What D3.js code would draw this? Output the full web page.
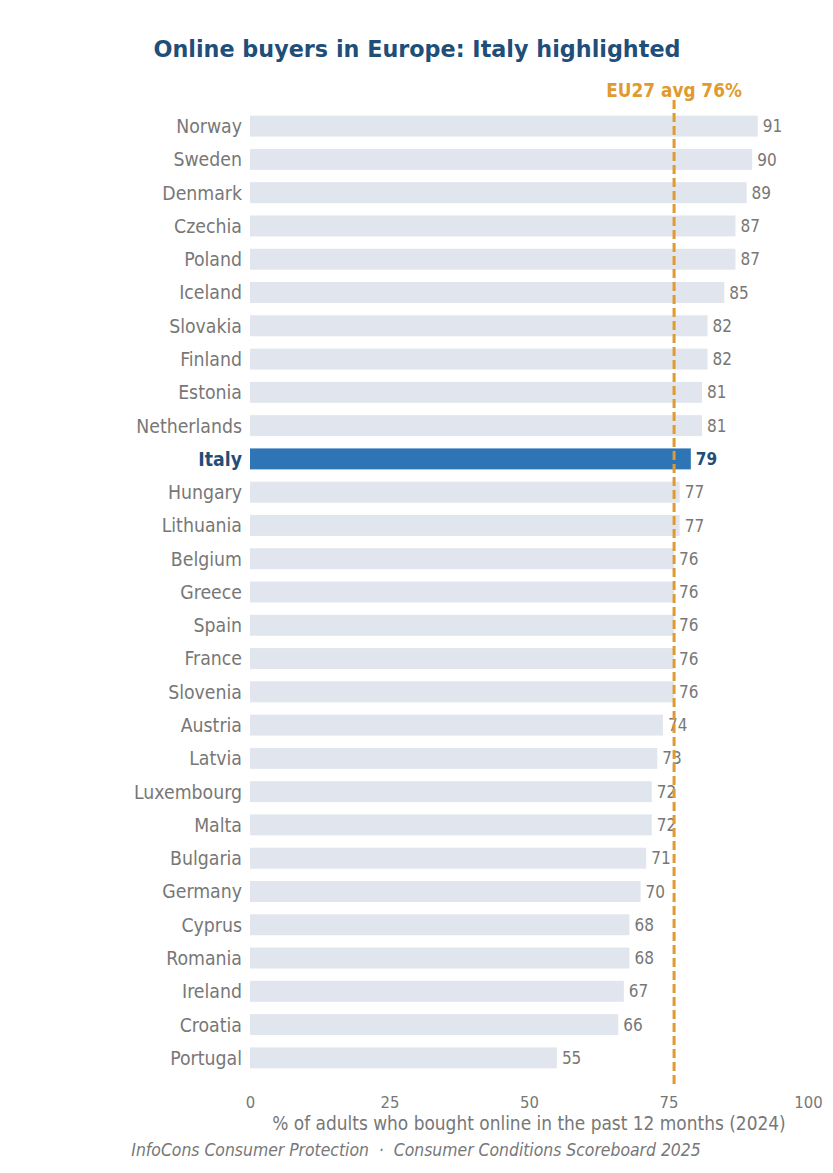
<!DOCTYPE html>
<html>
<head>
<meta charset="utf-8">
<script src="https://cdn.jsdelivr.net/npm/d3@7"></script>
<style>
  body { margin: 0; background: #fff; }
  svg { font-family: "DejaVu Sans Condensed", "DejaVu Sans", sans-serif; }
</style>
</head>
<body>
<div id="chart"></div>
<script>
var countries = ['Norway', 'Sweden', 'Denmark', 'Czechia', 'Poland', 'Iceland', 'Slovakia', 'Finland',
  'Estonia', 'Netherlands', 'Italy', 'Hungary', 'Lithuania', 'Belgium', 'Greece', 'Spain', 'France',
  'Slovenia', 'Austria', 'Latvia', 'Luxembourg', 'Malta', 'Bulgaria', 'Germany', 'Cyprus', 'Romania',
  'Ireland', 'Croatia', 'Portugal'];
var shares = [91, 90, 89, 87, 87, 85, 82, 82, 81, 81, 79, 77, 77, 76, 76, 76, 76, 76, 74, 73, 72, 72,
  71, 70, 68, 68, 67, 66, 55];
var xTicks = [0, 25, 50, 75, 100];
var euAvg = 76;
var highlight = 'Italy';

var width = 833, height = 1173;
var svg = d3.select('#chart').append('svg')
  .attr('width', width)
  .attr('height', height);

var x = d3.scaleLinear().domain([0, 100]).range([250, 808]);
var y = d3.scaleBand().domain(countries).range([109.5, 1074.5])
  .paddingInner(0.37).paddingOuter(0.185);

var rows = countries.map(function (c, i) { return { name: c, value: shares[i] }; });
var isHi = function (d) { return d.name === highlight; };

// title
svg.append('text')
  .attr('x', 417).attr('y', 57)
  .attr('text-anchor', 'middle')
  .attr('font-family', '"DejaVu Sans", sans-serif')
  .attr('font-size', 22.3).attr('font-weight', 'bold')
  .attr('fill', '#1f4e79')
  .text('Online buyers in Europe: Italy highlighted');

// bars
svg.append('g').selectAll('rect')
  .data(rows)
  .enter().append('rect')
  .attr('x', x(0))
  .attr('y', function (d) { return y(d.name); })
  .attr('width', function (d) { return x(d.value) - x(0); })
  .attr('height', y.bandwidth())
  .attr('fill', function (d) { return isHi(d) ? '#2e75b6' : '#e1e6ee'; });

// country names
svg.append('g').selectAll('text')
  .data(rows)
  .enter().append('text')
  .attr('x', x(0) - 8)
  .attr('y', function (d) { return y(d.name) + y.bandwidth() / 2; })
  .attr('dy', '0.36em')
  .attr('text-anchor', 'end')
  .attr('font-size', 19.3)
  .attr('font-weight', function (d) { return isHi(d) ? 'bold' : 'normal'; })
  .attr('fill', function (d) { return isHi(d) ? '#1f4e79' : '#777777'; })
  .text(function (d) { return d.name; });

// values
svg.append('g').selectAll('text')
  .data(rows)
  .enter().append('text')
  .attr('x', function (d) { return x(d.value) + 5; })
  .attr('y', function (d) { return y(d.name) + y.bandwidth() / 2; })
  .attr('dy', '0.36em')
  .attr('font-size', 17)
  .attr('font-weight', function (d) { return isHi(d) ? 'bold' : 'normal'; })
  .attr('fill', function (d) { return isHi(d) ? '#1f4e79' : '#777777'; })
  .text(function (d) { return d.value; });

// EU average marker
svg.append('line')
  .attr('x1', x(euAvg)).attr('x2', x(euAvg))
  .attr('y1', 100).attr('y2', 1085)
  .attr('stroke', '#e09a30')
  .attr('stroke-width', 3)
  .attr('stroke-dasharray', '9,4');

svg.append('text')
  .attr('x', x(euAvg)).attr('y', 97)
  .attr('text-anchor', 'middle')
  .attr('font-size', 18.8).attr('font-weight', 'bold')
  .attr('fill', '#e09a30')
  .text('EU27 avg ' + euAvg + '%');

var axis = svg.append('g')
  .attr('transform', 'translate(0,1088)')
  .call(d3.axisBottom(x).tickValues(xTicks).tickSize(0).tickPadding(8));
axis.select('.domain').remove();
axis.selectAll('text')
  .attr('font-family', '"DejaVu Sans Condensed", "DejaVu Sans", sans-serif')
  .attr('font-size', 16.5)
  .attr('fill', '#777777');

svg.append('text')
  .attr('x', (x(0) + x(100)) / 2).attr('y', 1129.5)
  .attr('text-anchor', 'middle')
  .attr('font-size', 18.9)
  .attr('fill', '#777777')
  .text('% of adults who bought online in the past 12 months (2024)');

svg.append('text')
  .attr('x', 416).attr('y', 1155.5)
  .attr('text-anchor', 'middle')
  .attr('font-size', 17.4).attr('font-style', 'italic')
  .attr('fill', '#777777')
  .style('white-space', 'pre')
  .text('InfoCons Consumer Protection  \u00b7  Consumer Conditions Scoreboard 2025');
</script>
</body>
</html>
